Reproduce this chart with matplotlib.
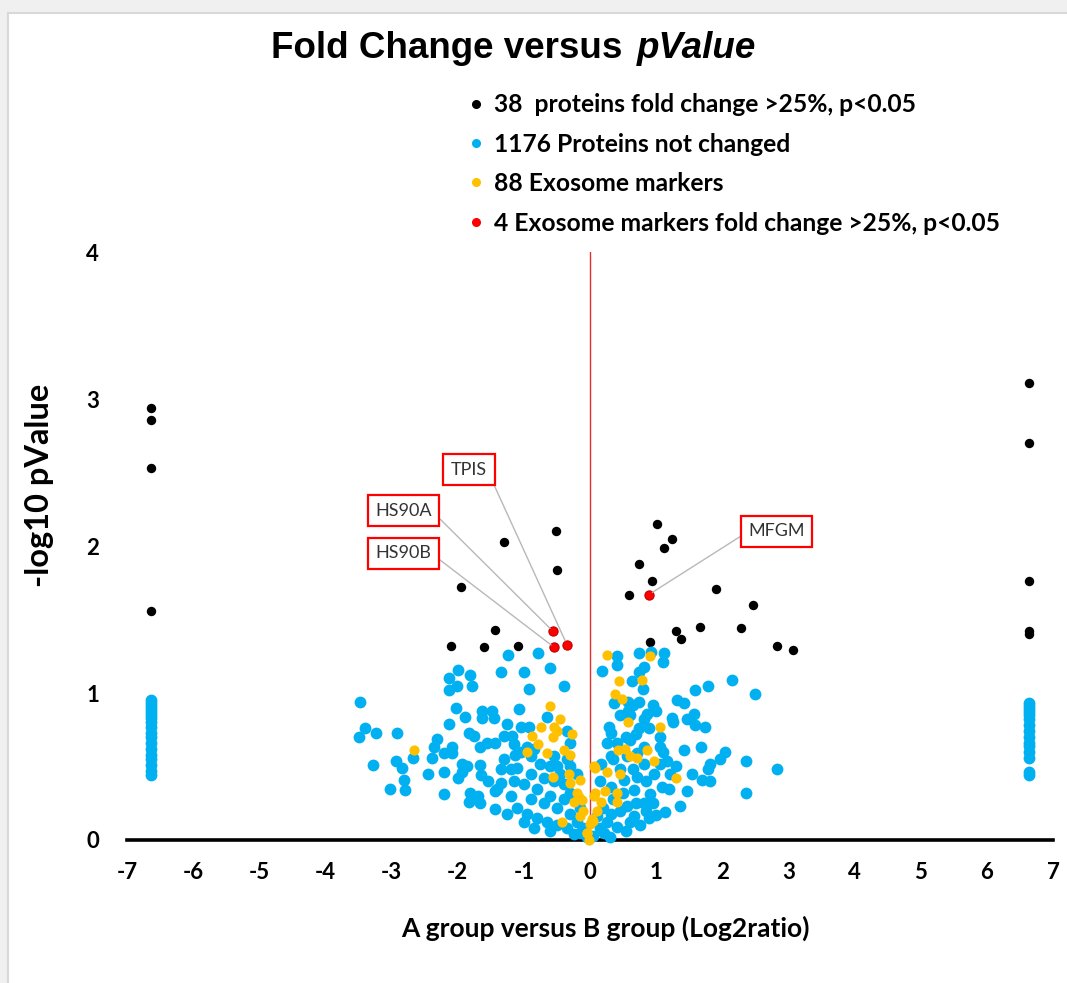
import matplotlib
matplotlib.use('Agg')
import matplotlib.pyplot as plt
from matplotlib.lines import Line2D
from matplotlib.patches import Rectangle

plt.rcParams['axes.unicode_minus'] = False

# ---- data (log2 ratio, -log10 p) ----
EDGE = 6.64

black_pts = [(-EDGE, 2.94), (-EDGE, 2.86), (-EDGE, 2.53), (-EDGE, 1.56),
             (EDGE, 3.11), (EDGE, 2.70), (EDGE, 1.76), (EDGE, 1.42), (EDGE, 1.40),
             (-0.51, 2.10), (-1.30, 2.03), (-0.50, 1.84), (-1.95, 1.72),
             (-1.43, 1.43), (-2.10, 1.32), (-1.60, 1.31), (-1.09, 1.32),
             (1.01, 2.15), (1.24, 2.05), (1.12, 1.99), (0.74, 1.88), (0.94, 1.76),
             (0.59, 1.67), (0.91, 1.35), (1.30, 1.42), (1.37, 1.37),
             (1.90, 1.71), (2.46, 1.60), (1.66, 1.45), (2.28, 1.44),
             (2.82, 1.32), (3.07, 1.29)]

red_pts = [(-0.56, 1.42), (-0.54, 1.31), (-0.35, 1.33), (0.89, 1.67)]

edge_blue_left = [0.95, 0.93, 0.91, 0.89, 0.87, 0.85, 0.83, 0.80, 0.77, 0.73,
                  0.70, 0.66, 0.62, 0.58, 0.55, 0.51, 0.47, 0.44]
edge_blue_right = [0.93, 0.91, 0.89, 0.87, 0.85, 0.82, 0.78, 0.74, 0.70, 0.66,
                   0.64, 0.60, 0.56, 0.46, 0.44]

blue_pts = [
    # left wing
    (-3.48, 0.94), (-3.40, 0.76), (-3.49, 0.70), (-3.23, 0.73), (-2.92, 0.73),
    (-3.28, 0.51), (-2.94, 0.54), (-2.84, 0.49), (-2.81, 0.41), (-3.02, 0.35),
    (-2.80, 0.34), (-2.67, 0.56), (-2.21, 0.46), (-2.21, 0.31), (-2.39, 0.56),
    (-2.31, 0.69), (-2.36, 0.63), (-2.13, 0.79), (-2.02, 0.90), (-1.89, 0.84),
    (-2.13, 1.10), (-2.00, 1.16), (-2.13, 1.02), (-2.01, 1.05), (-1.82, 1.12),
    (-1.78, 1.05), (-2.08, 0.63), (-2.21, 0.59), (-2.08, 0.59), (-1.93, 0.52),
    (-1.86, 0.50), (-1.93, 0.46), (-1.66, 0.51), (-1.65, 0.44), (-1.83, 0.73),
    (-1.76, 0.71), (-1.63, 0.88), (-1.63, 0.83), (-1.48, 0.88), (-1.45, 0.83),
    (-1.66, 0.63), (-1.56, 0.66), (-1.43, 0.66), (-1.30, 0.71), (-1.25, 0.79),
    (-1.18, 0.71), (-1.15, 0.65), (-1.13, 0.58), (-1.35, 0.48), (-1.20, 0.48),
    (-1.10, 0.49), (-1.81, 0.32), (-1.83, 0.26), (-1.66, 0.25), (-1.43, 0.21),
    (-1.43, 0.33), (-1.35, 0.39), (-1.24, 1.26), (-1.35, 1.14), (-1.00, 1.14),
    (-0.93, 1.03), (-0.78, 1.27), (-0.61, 1.17), (-0.39, 1.05), (-1.08, 0.89),
    (-0.65, 0.84), (-1.05, 0.77), (-0.93, 0.77), (-0.35, 0.74), (-0.30, 0.66),
    (-0.95, 0.63), (-0.90, 0.57), (-0.55, 0.57), (-0.50, 0.50), (-0.30, 0.50),
    (-1.40, 0.35), (-1.20, 0.30), (-1.00, 0.38), (-0.90, 0.28), (-0.80, 0.35),
    (-0.70, 0.25), (-0.60, 0.30), (-0.50, 0.22), (-0.40, 0.28), (-0.30, 0.18),
    (-0.20, 0.12), (-0.15, 0.05), (-1.10, 0.22), (-0.95, 0.18), (-0.80, 0.15),
    (-0.65, 0.12), (-0.50, 0.10), (-0.35, 0.08), (-0.25, 0.04), (-1.25, 0.18),
    (-0.70, 0.42), (-0.55, 0.40), (-0.45, 0.45), (-1.00, 0.12), (-0.85, 0.08),
    (-0.60, 0.06), (-0.90, 0.45), (-1.05, 0.60), (-0.75, 0.52), (-0.60, 0.50),
    (-0.40, 0.38), (-0.30, 0.32), (-0.15, 0.22), (-1.30, 0.55), (-1.55, 0.40),
    (-1.70, 0.30), (-2.00, 0.42), (-2.45, 0.45), (-1.15, 0.40), (-0.85, 0.62),
    (-0.35, 0.55), (-0.20, 0.45),
    # right wing
    (0.40, 1.25), (0.41, 1.19), (0.18, 1.15), (0.74, 1.27), (0.92, 1.28),
    (1.12, 1.27), (1.11, 1.21), (0.81, 1.18), (0.74, 1.14), (0.63, 1.08),
    (0.80, 1.03), (0.58, 0.94), (0.36, 0.93), (0.74, 0.94), (0.95, 0.92),
    (1.31, 0.95), (1.42, 0.93), (1.59, 1.02), (1.79, 1.05), (2.15, 1.09),
    (2.50, 0.99), (0.58, 0.88), (0.60, 0.85), (0.81, 0.82), (0.74, 0.76),
    (0.89, 0.76), (1.06, 0.70), (1.24, 0.83), (1.26, 0.80), (1.47, 0.82),
    (1.57, 0.86), (1.59, 0.78), (1.74, 0.77), (0.28, 0.77), (0.31, 0.73),
    (0.26, 0.66), (0.41, 0.66), (1.42, 0.61), (1.67, 0.63), (2.04, 0.60),
    (1.97, 0.55), (1.82, 0.52), (1.79, 0.48), (2.36, 0.54), (2.82, 0.48),
    (2.35, 0.32), (1.16, 0.54), (1.21, 0.45), (1.54, 0.45), (1.69, 0.41),
    (1.82, 0.40), (1.47, 0.33), (1.36, 0.23), (1.14, 0.19), (0.89, 0.15),
    (0.16, 0.52), (0.31, 0.57), (0.56, 0.57), (0.81, 0.52), (0.96, 0.45),
    (0.71, 0.43), (0.51, 0.41), (0.31, 0.36), (0.66, 0.34), (0.91, 0.31),
    (1.09, 0.36), (0.81, 0.25), (0.56, 0.23), (0.31, 0.18), (0.66, 0.16),
    (0.41, 0.09), (0.21, 0.05), (0.11, 0.16), (0.61, 0.68), (0.81, 0.63),
    (0.71, 0.59), (1.06, 0.63), (0.86, 0.86), (0.15, 0.40), (0.25, 0.12),
    (0.35, 0.28), (0.45, 0.20), (0.50, 0.32), (0.60, 0.12), (0.70, 0.25),
    (0.75, 0.10), (0.85, 0.20), (0.95, 0.25), (1.00, 0.17), (0.30, 0.02),
    (0.15, 0.08), (0.05, 0.03), (-0.05, 0.02), (-0.10, 0.08), (0.55, 0.06),
    (0.20, 0.22), (0.45, 0.48), (0.65, 0.48), (0.85, 0.40), (1.05, 0.52),
    (0.35, 0.55), (0.55, 0.70), (0.70, 0.72), (0.45, 0.85), (0.65, 0.92),
    (1.00, 0.88), (1.10, 0.60), (1.30, 0.50), (1.20, 0.35),
]

yellow_pts = [
    (-2.66, 0.61), (-0.61, 0.91), (-0.46, 0.82), (-0.74, 0.77), (-0.55, 0.77),
    (-0.50, 0.74), (-0.88, 0.71), (-0.56, 0.70), (-0.27, 0.72), (-0.78, 0.65),
    (-0.96, 0.60), (-0.65, 0.59), (-0.40, 0.61), (-0.30, 0.58), (-0.56, 0.43),
    (-0.32, 0.45), (-0.15, 0.41), (-0.30, 0.39), (-0.20, 0.32), (-0.25, 0.26),
    (-0.12, 0.27), (-0.10, 0.20), (0.03, 0.14), (-0.05, 0.05), (-0.42, 0.12),
    (0.06, 0.50), (0.06, 0.30),
    (0.25, 1.26), (0.90, 1.25), (0.44, 1.08), (0.78, 1.09), (0.37, 0.99),
    (0.48, 0.96), (0.58, 0.80), (1.06, 0.77), (0.42, 0.61), (0.53, 0.62),
    (0.61, 0.57), (0.71, 0.56), (0.86, 0.61), (0.97, 0.54), (1.30, 0.42),
    (0.08, 0.49), (0.26, 0.46), (0.46, 0.45), (0.08, 0.32), (0.23, 0.33),
    (0.41, 0.32), (0.41, 0.26), (0.16, 0.26), (0.11, 0.20), (-0.17, 0.29),
    (-0.15, 0.16), (0.00, 0.11), (0.05, 0.13), (-0.05, 0.05), (-0.02, 0.00),
]

labels = ['38  proteins fold change >25%, p<0.05', '1176 Proteins not changed',
          '88 Exosome markers', '4 Exosome markers fold change >25%, p<0.05']
callouts = ['TPIS', 'HS90A', 'HS90B', 'MFGM']
callout_xy = [(-1.83, 2.52), (-2.82, 2.24), (-2.82, 1.95), (2.82, 2.10)]
callout_target = [2, 0, 1, 3]   # index into red_pts

BLUE, YELLOW, RED = '#00B0F0', '#FFC000', '#FF0000'
FONT = 'Lato'

blue_x = [p[0] for p in blue_pts] + [-EDGE] * len(edge_blue_left) + [EDGE] * len(edge_blue_right)
blue_y = [p[1] for p in blue_pts] + edge_blue_left + edge_blue_right

fig = plt.figure(figsize=(10.67, 9.83), dpi=100)
ax = fig.add_axes([0.119, 0.1455, 0.868, 0.598])

# screenshot frame
fig.patches.append(Rectangle((0, 0.987), 1, 0.013, transform=fig.transFigure,
                             facecolor='#f0f0f0', edgecolor='none', zorder=-5))
fig.patches.append(Rectangle((0, 0), 0.0075, 1, transform=fig.transFigure,
                             facecolor='#f0f0f0', edgecolor='none', zorder=-5))
fig.add_artist(Line2D([0.0075, 0.0075], [0, 0.987], transform=fig.transFigure, color='#d8d8d8', lw=1.5))
fig.add_artist(Line2D([0.0075, 1], [0.987, 0.987], transform=fig.transFigure, color='#d8d8d8', lw=1.5))

ax.axvline(0, color='#E03030', lw=1, zorder=1)

ax.scatter([p[0] for p in black_pts], [p[1] for p in black_pts], s=46, color='black',
           zorder=3, clip_on=False, linewidths=0)
ax.scatter(blue_x, blue_y, s=72, color=BLUE, zorder=3, clip_on=False, linewidths=0)
ax.scatter([p[0] for p in yellow_pts], [p[1] for p in yellow_pts], s=54, color=YELLOW,
           zorder=4, clip_on=False, linewidths=0)
ax.scatter([p[0] for p in red_pts], [p[1] for p in red_pts], s=44, color=RED,
           edgecolors='#C00000', linewidths=0.8, zorder=5, clip_on=False)

for name, (tx, ty), ti in zip(callouts, callout_xy, callout_target):
    px, py = red_pts[ti]
    right = tx > px
    ax.annotate(name, xy=(px, py), xytext=(tx, ty), ha='center', va='center',
                fontsize=13, family=FONT, color='#333333',
                bbox=dict(boxstyle='square,pad=0.42', fc='white', ec=RED, lw=1.6),
                arrowprops=dict(arrowstyle='-', color='#b8b8b8', lw=1,
                                shrinkA=0, shrinkB=3,
                                relpos=(0, 0.5) if right else (1, 0.5)),
                zorder=6)

ax.set_xlim(-7, 7)
ax.set_ylim(0, 4)
ax.set_xticks(range(-7, 8))
ax.set_yticks(range(0, 5))
ax.tick_params(length=0)
ax.tick_params(axis='x', pad=16)
ax.tick_params(axis='y', pad=20)
for lab in ax.get_xticklabels() + ax.get_yticklabels():
    lab.set_fontfamily(FONT)
    lab.set_fontweight('bold')
    lab.set_fontsize(16)
ax.spines[['top', 'right', 'left']].set_visible(False)
ax.spines['bottom'].set_linewidth(2.6)
ax.spines['bottom'].set_zorder(2)

fig.text(605 / 1067, 1 - 928 / 983, 'A group versus B group (Log2ratio)', ha='center',
         va='center', family=FONT, fontweight='bold', fontsize=19)
fig.text(40 / 1067, 1 - 485 / 983, '-log10 pValue', ha='center', va='center',
         rotation=90, family=FONT, fontweight='bold', fontsize=23.5)

fig.text(633 / 1067, 1 - 49 / 983, 'Fold Change versus ', ha='right', va='center',
         family='Liberation Sans', fontweight='bold', fontsize=26.5)
fig.text(637 / 1067, 1 - 49 / 983, 'pValue', ha='left', va='center',
         family='Liberation Sans', fontweight='bold', style='italic', fontsize=26.5)

handles = [Line2D([], [], ls='', marker='o', color=c, markersize=5.5)
           for c in ['black', BLUE, YELLOW, RED]]
leg = fig.legend(handles, labels, loc='upper left', bbox_to_anchor=(447 / 1067, 1 - 71 / 983),
                 frameon=False, handlelength=0.55, handletextpad=0.45, labelspacing=0.67,
                 prop=dict(family=FONT, weight='bold', size=17.7))

fig.savefig('out.png', dpi=100)
